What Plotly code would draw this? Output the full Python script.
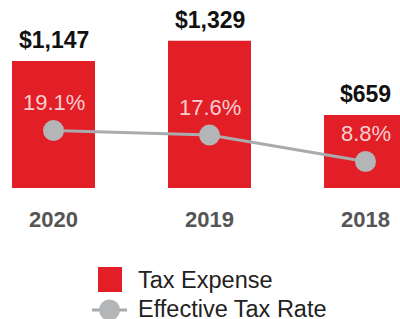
import plotly.graph_objects as go

years = ["2020", "2019", "2018"]
tax_expense = [1147, 1329, 659]
expense_labels = ["$1,147", "$1,329", "$659"]
tax_rate = [19.1, 17.6, 8.8]
rate_labels = ["19.1%", "17.6%", "8.8%"]

RED = "#e21e26"
GRAY = "#b3b5b7"
LINE_GRAY = "#a9abad"
FONT = "Liberation Sans, Arial, sans-serif"

W, H = 400, 319
PLOT_H = 188

xpos = list(range(len(years)))


def px(x):
    return x / W


def py(y):
    return (PLOT_H - y) / PLOT_H


fig = go.Figure()
fig.add_trace(go.Bar(
    x=xpos, y=tax_expense, width=0.532, marker=dict(color=RED, line=dict(width=0)),
    name="Tax Expense", yaxis="y", hoverinfo="skip",
))
fig.add_trace(go.Scatter(
    x=xpos, y=tax_rate, mode="lines+markers", yaxis="y2", name="Effective Tax Rate",
    line=dict(color=LINE_GRAY, width=3),
    marker=dict(color=GRAY, size=21, line=dict(width=0)), hoverinfo="skip",
))

annotations = []
for xi, v, lab in zip(xpos, tax_expense, expense_labels):
    annotations.append(dict(x=xi, y=v, xref="x", yref="y", text="<b>" + lab.replace("$", "&#36;") + "</b>",
                            showarrow=False, yanchor="middle", yshift=21,
                            font=dict(family=FONT, size=23, color="#111111")))
for xi, r, lab in zip(xpos, tax_rate, rate_labels):
    annotations.append(dict(x=xi, y=r, xref="x", yref="y2", text=lab,
                            showarrow=False, yanchor="middle", yshift=28,
                            font=dict(family=FONT, size=22, color="#f7cfd0")))

# custom legend
annotations.append(dict(x=px(136), y=py(280), xref="paper", yref="paper", text="Tax Expense",
                        showarrow=False, xanchor="left", yanchor="middle",
                        font=dict(family=FONT, size=23.5, color="#222222")))
annotations.append(dict(x=px(136), y=py(309), xref="paper", yref="paper", text="Effective Tax Rate",
                        showarrow=False, xanchor="left", yanchor="middle",
                        font=dict(family=FONT, size=23.5, color="#222222")))
shapes = [
    dict(type="rect", xref="paper", yref="paper", x0=px(98), x1=px(122), y0=py(292), y1=py(267),
         fillcolor=RED, line=dict(width=0)),
    dict(type="line", xref="paper", yref="paper", x0=px(92), x1=px(127), y0=py(310), y1=py(310),
         line=dict(color=LINE_GRAY, width=3)),
    dict(type="circle", xref="paper", yref="paper", x0=px(99), x1=px(120), y0=py(320.5), y1=py(299.5),
         fillcolor=GRAY, line=dict(width=0)),
]

fig.update_layout(
    width=W, height=H, margin=dict(l=0, r=0, t=0, b=H - PLOT_H),
    paper_bgcolor="white", plot_bgcolor="white", showlegend=False,
    xaxis=dict(range=[-0.343, 2.221], showgrid=False, zeroline=False, showline=False,
               tickmode="array", tickvals=xpos, ticktext=["<b>" + y + "</b>" for y in years],
               ticks="", ticklabelstandoff=16,
               tickfont=dict(family=FONT, size=22, color="#555555")),
    yaxis=dict(range=[0, 1698], visible=False),
    yaxis2=dict(range=[0, 62.5], visible=False, overlaying="y"),
    annotations=annotations, shapes=shapes,
)

fig.write_html("out.html", config={"displayModeBar": False},
               post_script="document.body.style.margin='0';document.body.style.overflow='hidden';")
